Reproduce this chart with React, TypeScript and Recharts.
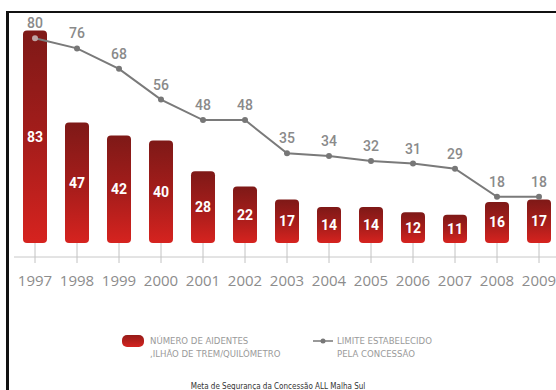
import { ComposedChart, Bar, Line, XAxis, YAxis, LabelList, Legend } from 'recharts';

const years = ['1997', '1998', '1999', '2000', '2001', '2002', '2003', '2004', '2005', '2006', '2007', '2008', '2009'];
const accidents = [83, 47, 42, 40, 28, 22, 17, 14, 14, 12, 11, 16, 17];
const limits = [80, 76, 68, 56, 48, 48, 35, 34, 32, 31, 29, 18, 18];

const data = years.map((year, i) => ({ year, accidents: accidents[i], limit: limits[i] }));

const FONT = "'Open Sans', 'DejaVu Sans', sans-serif";
const NARROW = "'Liberation Sans Narrow', 'DejaVu Sans Condensed', 'Roboto', sans-serif";

function YearTick(props: any) {
  const { x, y, payload } = props;
  return (
    <g>
      <line x1={x} x2={x} y1={y - 14} y2={y + 6} stroke='#c2c2c2' />
      <text x={x} y={y + 29} textAnchor='middle' fill='#8c8c8c' fontSize={15} fontFamily={FONT}>
        {payload.value}
      </text>
    </g>
  );
}

function LimitDot(props: any) {
  const { cx, cy, index } = props;
  if (index === 0) return <g key={'d' + index} />;
  return <circle key={'d' + index} cx={cx} cy={cy} r={3} fill='#777' />;
}

// the 1997 point sits on top of the bar, drawn paler
function FirstDot(props: any) {
  const { cx, cy, index } = props;
  if (index !== 0) return <g key={'f' + index} />;
  return <circle key={'f' + index} cx={cx} cy={cy} r={3} fill='#bfa3a3' />;
}

function LegendBox() {
  return (
    <div style={{ position: 'relative', height: 28, fontFamily: NARROW, fontSize: 9.5, color: '#9a9a9a', lineHeight: '13px' }}>
      <div
        style={{
          position: 'absolute',
          left: 122,
          top: 1,
          width: 22,
          height: 12,
          borderRadius: 5,
          background: 'linear-gradient(#961b18, #d42420)',
        }}
      />
      <div style={{ position: 'absolute', left: 150, top: 0, textAlign: 'left' }}>
        NÚMERO DE AIDENTES
        <br />
        ,ILHÃO DE TREM/QUILÔMETRO
      </div>
      <svg style={{ position: 'absolute', left: 312, top: 4 }} width={22} height={6}>
        <line x1={1} x2={21} y1={3} y2={3} stroke='#777' strokeWidth={1.5} />
        <circle cx={11} cy={3} r={2.5} fill='#777' />
      </svg>
      <div style={{ position: 'absolute', left: 337, top: 0, textAlign: 'left' }}>
        LIMITE ESTABELECIDO
        <br />
        PELA CONCESSÃO
      </div>
    </div>
  );
}

export default function App() {
  return (
    <div style={{ position: 'absolute', left: 0, top: 0, width: 556, height: 390, overflow: 'hidden', background: '#fff' }}>
      <div
        style={{
          position: 'absolute',
          left: 6,
          top: 11,
          width: 550,
          height: 379,
          borderTop: '2px solid #111',
          borderLeft: '3px solid #111',
          boxSizing: 'border-box',
        }}
      />
      <div style={{ position: 'absolute', left: 0, top: 0 }}>
        <ComposedChart width={560} height={390} data={data} margin={{ top: 10, right: 0, left: 14, bottom: 93 }}>
          <defs>
            <linearGradient id='barRed' x1='0' y1='0' x2='0' y2='1'>
              <stop offset='0%' stopColor='#7e1917' />
              <stop offset='55%' stopColor='#a81d1b' />
              <stop offset='100%' stopColor='#d6231f' />
            </linearGradient>
          </defs>
          <XAxis
            dataKey='year'
            height={40}
            axisLine={{ stroke: '#c8c8c8' }}
            tickLine={false}
            tickSize={0}
            tickMargin={0}
            interval={0}
            tick={<YearTick />}
          />
          <YAxis hide domain={[-5.5, 91]} />
          <Line
            dataKey='limit'
            stroke='#7a7a7a'
            strokeWidth={2}
            dot={<LimitDot />}
            isAnimationActive={false}
            legendType='none'
          >
            <LabelList
              dataKey='limit'
              position='top'
              offset={10}
              fill='#8a8a8a'
              fontSize={14}
              fontWeight={500}
              fontFamily='Roboto, sans-serif'
            />
          </Line>
          <Bar dataKey='accidents' barSize={24} fill='url(#barRed)' radius={[4, 4, 4, 4]} isAnimationActive={false}>
            <LabelList
              dataKey='accidents'
              position='center'
              fill='#fff'
              fontSize={14}
              fontWeight='bold'
              fontFamily='Roboto, sans-serif'
            />
          </Bar>
          <Line dataKey='limit' stroke='none' dot={<FirstDot />} isAnimationActive={false} legendType='none' />
          <Legend
            verticalAlign='middle'
            align='center'
            layout='horizontal'
            content={<LegendBox />}
            wrapperStyle={{ top: 334, left: 0, width: 556, height: 28 }}
          />
        </ComposedChart>
      </div>
      <div
        style={{
          position: 'absolute',
          left: 0,
          top: 382,
          width: 556,
          textAlign: 'center',
          fontFamily: NARROW,
          fontSize: 8,
          lineHeight: '10px',
          color: '#333',
        }}
      >
        Meta de Segurança da Concessão ALL Malha Sul
      </div>
    </div>
  );
}
